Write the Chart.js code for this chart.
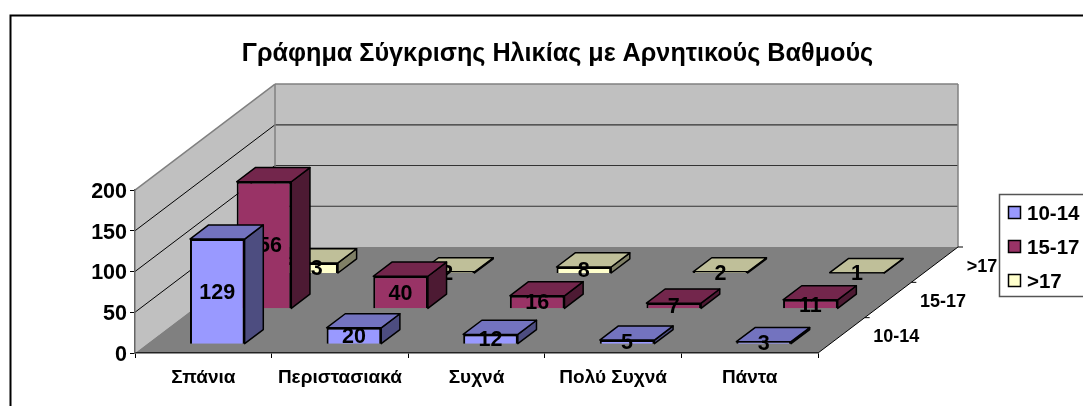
<!DOCTYPE html>
<html>
<head>
<meta charset="utf-8">
<style>
  html, body { margin: 0; padding: 0; background: #fff; overflow: hidden; }
  canvas { display: block; }
</style>
<script src="https://cdn.jsdelivr.net/npm/chart.js@4"></script>
</head>
<body>
<canvas id="chart" width="1115" height="430"></canvas>
<script>
const categories = ['Σπάνια', 'Περιστασιακά', 'Συχνά', 'Πολύ Συχνά', 'Πάντα'];
const seriesLabels = ['10-14', '15-17', '>17'];
const values1014 = [129, 20, 12, 5, 3];
const values1517 = [156, 40, 16, 7, 11];
const valuesOver17 = [13, 2, 8, 2, 1];

const fills = ['#9999FF', '#993366', '#FFFFCC'];
const tops = ['#7373BF', '#73264C', '#BFBF99'];
const sides = ['#4D4D80', '#4D1A33', '#808066'];

const FONT = '"Liberation Sans", Arial, sans-serif';

// oblique depth of the floor, in pixels
const DEPTH_X = 140;
const DEPTH_Y = 106;
const ROW_X = DEPTH_X / seriesLabels.length;
const ROW_Y = DEPTH_Y / seriesLabels.length;
const BAR_OFFSET_X = 0.3;
const BAR_OFFSET_Y = 0.25;
const BAR_DEPTH = 0.4;

function poly(ctx, points, fill, stroke, width) {
    ctx.beginPath();
    points.forEach((p, i) => i ? ctx.lineTo(p[0], p[1]) : ctx.moveTo(p[0], p[1]));
    ctx.closePath();
    if (fill) {
        ctx.fillStyle = fill;
        ctx.fill();
    }
    if (stroke) {
        ctx.strokeStyle = stroke;
        ctx.lineWidth = width;
        ctx.stroke();
    }
}

function line(ctx, x1, y1, x2, y2, color, width) {
    ctx.beginPath();
    ctx.moveTo(x1, y1);
    ctx.lineTo(x2, y2);
    ctx.strokeStyle = color;
    ctx.lineWidth = width;
    ctx.stroke();
}

const box3d = {
    id: 'box3d',
    // the title is centred on the whole frame, not on the plot
    afterLayout(chart) {
        chart.titleBlock.left = 0;
        chart.titleBlock.right = chart.width;
    },
    // frame, walls, floor and the depth axis
    beforeDraw(chart) {
        const ctx = chart.ctx;
        const { left, right, top, bottom } = chart.chartArea;
        ctx.save();
        ctx.strokeStyle = '#000';
        ctx.lineWidth = 2;
        ctx.strokeRect(10.5, 15.5, chart.width, chart.height);

        const gray = '#C0C0C0';
        poly(ctx, [[left, top], [left + DEPTH_X, top - DEPTH_Y], [left + DEPTH_X, bottom - DEPTH_Y], [left, bottom]], gray);
        poly(ctx, [[left + DEPTH_X, top - DEPTH_Y], [right + DEPTH_X, top - DEPTH_Y], [right + DEPTH_X, bottom - DEPTH_Y], [left + DEPTH_X, bottom - DEPTH_Y]], gray);
        poly(ctx, [[left, bottom], [left + DEPTH_X, bottom - DEPTH_Y], [right + DEPTH_X, bottom - DEPTH_Y], [right, bottom]], '#808080');

        chart.scales.y.ticks.forEach(t => {
            const y = chart.scales.y.getPixelForValue(t.value);
            if (t.value > 0 && t.value < chart.scales.y.max) {
                line(ctx, left, y, left + DEPTH_X, y - DEPTH_Y, '#000', 1);
                line(ctx, left + DEPTH_X, y - DEPTH_Y, right + DEPTH_X, y - DEPTH_Y, '#333', 1.2);
            }
        });
        line(ctx, left, top, left + DEPTH_X, top - DEPTH_Y, '#808080', 1.5);
        line(ctx, left + DEPTH_X, top - DEPTH_Y, right + DEPTH_X, top - DEPTH_Y, '#808080', 1.5);
        line(ctx, left + DEPTH_X, top - DEPTH_Y, left + DEPTH_X, bottom - DEPTH_Y, '#808080', 1.5);
        line(ctx, right + DEPTH_X, top - DEPTH_Y, right + DEPTH_X, bottom - DEPTH_Y, '#808080', 1.5);

        // depth axis with its ticks and labels
        line(ctx, right, bottom, right + DEPTH_X, bottom - DEPTH_Y, '#000', 1);
        for (let i = 1; i <= seriesLabels.length; i++) {
            const x = right + i * ROW_X;
            const y = bottom - i * ROW_Y;
            line(ctx, x, y, x + 5, y, '#000', 1);
        }
        ctx.fillStyle = '#000';
        ctx.font = 'bold 18px ' + FONT;
        ctx.textAlign = 'left';
        ctx.textBaseline = 'middle';
        seriesLabels.forEach((label, i) => {
            ctx.fillText(label, right + (i + 0.5) * ROW_X + 32, bottom - (i + 0.5) * ROW_Y + 2);
        });
        ctx.restore();
    },
    // move each series back along the depth axis, add top and side faces
    beforeDatasetDraw(chart, args) {
        const ctx = chart.ctx;
        const i = args.index;
        const dw = BAR_DEPTH * ROW_X;
        const dh = BAR_DEPTH * ROW_Y;
        ctx.save();
        ctx.translate((i + BAR_OFFSET_X) * ROW_X, -(i + BAR_OFFSET_Y) * ROW_Y);
        ctx.lineJoin = 'round';
        args.meta.data.forEach(bar => {
            const { x, y, base, width } = bar.getProps(['x', 'y', 'base', 'width'], true);
            const l = x - width / 2;
            const r = x + width / 2;
            poly(ctx, [[r, y], [r + dw, y - dh], [r + dw, base - dh], [r, base]], sides[i], '#000', 1.5);
            poly(ctx, [[l, y], [l + dw, y - dh], [r + dw, y - dh], [r, y]], tops[i], '#000', 1.5);
        });
    },
    // the value labels belong to the series, later series cover them
    afterDatasetDraw(chart, args) {
        const ctx = chart.ctx;
        const values = chart.data.datasets[args.index].data;
        ctx.fillStyle = '#000';
        ctx.font = 'bold 21.5px ' + FONT;
        ctx.textAlign = 'center';
        ctx.textBaseline = 'middle';
        args.meta.data.forEach((bar, j) => {
            const { x, y, base } = bar.getProps(['x', 'y', 'base'], true);
            ctx.fillText(values[j], x, (y + base) / 2 + 1.5);
        });
        ctx.restore();
    },
    // legend box with the swatches
    afterDraw(chart) {
        const ctx = chart.ctx;
        ctx.save();
        ctx.fillStyle = '#fff';
        ctx.strokeStyle = '#555';
        ctx.lineWidth = 1.5;
        ctx.fillRect(999.5, 194.5, 120, 102);
        ctx.strokeRect(999.5, 194.5, 120, 102);
        ctx.font = 'bold 20.5px ' + FONT;
        ctx.textAlign = 'left';
        ctx.textBaseline = 'middle';
        seriesLabels.forEach((label, i) => {
            const y = 213 + i * 34;
            ctx.fillStyle = fills[i];
            ctx.strokeStyle = '#000';
            ctx.fillRect(1008.5, y - 6.5, 12, 12);
            ctx.strokeRect(1008.5, y - 6.5, 12, 12);
            ctx.fillStyle = '#000';
            ctx.fillText(label, 1027, y + 1);
        });
        ctx.restore();
    }
};

new Chart(document.getElementById('chart').getContext('2d'), {
    type: 'bar',
    data: {
        labels: categories,
        datasets: [values1014, values1517, valuesOver17].map((data, i) => ({
            label: seriesLabels[i],
            data: data,
            backgroundColor: fills[i],
            borderColor: '#000',
            borderWidth: 2,
            grouped: false,
            barPercentage: 0.4,
            categoryPercentage: 1,
            clip: false
        }))
    },
    options: {
        responsive: false,
        animation: false,
        layout: { padding: { right: 297 } },
        plugins: {
            legend: { display: false },
            tooltip: { enabled: false },
            title: {
                display: true,
                text: 'Γράφημα Σύγκρισης Ηλικίας με Αρνητικούς Βαθμούς',
                color: '#000',
                font: { family: FONT, size: 25.2, weight: 'bold', lineHeight: 1.2 },
                padding: { top: 39, bottom: 120.8 }
            }
        },
        scales: {
            x: {
                afterFit(scale) { scale.height = 77; },
                grid: { drawOnChartArea: false, color: '#000', tickLength: 5, lineWidth: 1 },
                border: { color: '#222', width: 1.5 },
                ticks: { color: '#000', font: { family: FONT, size: 19, weight: 'bold' }, padding: 8, maxRotation: 0, autoSkip: false }
            },
            y: {
                min: 0,
                max: 200,
                afterFit(scale) { scale.width = 135; },
                grid: { drawOnChartArea: false, color: '#000', tickLength: 5, lineWidth: 1 },
                border: { color: '#666', width: 1.5 },
                ticks: { stepSize: 50, color: '#000', font: { family: FONT, size: 21.5, weight: 'bold' }, padding: 3, labelOffset: 2 }
            }
        }
    },
    plugins: [box3d]
});
</script>
</body>
</html>
